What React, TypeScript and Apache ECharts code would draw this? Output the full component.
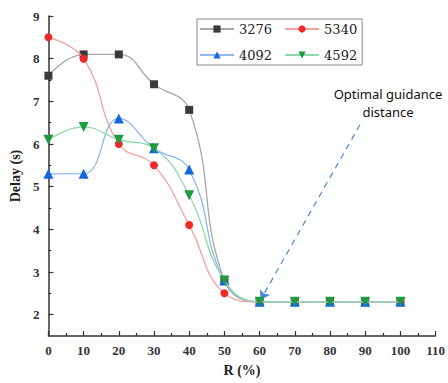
import React, { useEffect, useRef } from "react";
import * as echarts from "echarts";

const xValues = [0, 10, 20, 30, 40, 50, 60, 70, 80, 90, 100];
const s3276 = [7.6, 8.1, 8.1, 7.4, 6.8, 2.8, 2.3, 2.3, 2.3, 2.3, 2.3];
const s5340 = [8.5, 8.0, 6.0, 5.5, 4.1, 2.5, 2.3, 2.3, 2.3, 2.3, 2.3];
const s4092 = [5.3, 5.3, 6.6, 5.9, 5.4, 2.8, 2.3, 2.3, 2.3, 2.3, 2.3];
const s4592 = [6.1, 6.4, 6.1, 5.9, 4.8, 2.8, 2.3, 2.3, 2.3, 2.3, 2.3];
const legendNames = ["3276", "5340", "4092", "4592"];
const yMajorTicks = [2, 3, 4, 5, 6, 7, 8, 9];
const yMinorTicks = [2.5, 3.5, 4.5, 5.5, 6.5, 7.5, 8.5];
const annotationLines = ["Optimal guidance", "distance"];
const arrowFrom = [88.5, 6.45];
const arrowTo = [60.3, 2.35];

const serif = "Liberation Serif";

export default function App() {
  const ref = useRef<HTMLDivElement>(null);
  useEffect(() => {
    if (!ref.current) return;
    const chart = echarts.init(ref.current, null, { renderer: "svg" });
    const pair = (arr: number[]) => xValues.map((x, i) => [x, arr[i]]);
    const mk = (name: string, data: number[], line: string, mark: string, symbol: string, size: number, z: number) => ({
      name,
      type: "line",
      smooth: 0.45,
      data: pair(data),
      symbol,
      symbolSize: size,
      showAllSymbol: true,
      z,
      lineStyle: { color: line, width: 1.3 },
      itemStyle: { color: mark },
    });
    const series: any[] = [
      mk(legendNames[0], s3276, "#a8a8a8", "#3a3a3a", "rect", 8, 2),
      mk(legendNames[1], s5340, "#f5a0a0", "#f02828", "circle", 8, 3),
      mk(legendNames[2], s4092, "#8fb8ee", "#1565e0", "triangle", 10, 4),
      mk(legendNames[3], s4592, "#90d8a8", "#1e9a40", "path://M0,0 L10,0 L5,9 Z", 10, 5),
    ];
    series[0].markLine = {
      silent: true,
      symbol: ["none", "arrow"],
      symbolSize: 9,
      label: { show: false },
      lineStyle: { color: "#4a86d8", type: [6, 5], width: 1.2 },
      data: [[{ coord: arrowFrom }, { coord: arrowTo }]],
    };
    chart.setOption({
      animation: false,
      textStyle: { fontFamily: serif },
      grid: { left: 41, right: 11, top: 16, bottom: 47 },
      legend: {
        left: 197,
        top: 19,
        width: 172,
        itemWidth: 34,
        itemHeight: 9,
        itemGap: 12,
        padding: [3, 5, 3, 2],
        borderColor: "#8a8a8a",
        borderWidth: 1,
        data: legendNames,
        textStyle: { fontFamily: "DejaVu Serif", fontSize: 13, color: "#222", lineHeight: 14 },
      },
      xAxis: {
        type: "value",
        min: 0,
        max: 110,
        interval: 10,
        name: "R (%)",
        nameLocation: "middle",
        nameGap: 27,
        nameTextStyle: { fontFamily: serif, fontSize: 14, fontWeight: "bold", color: "#222" },
        axisLine: { show: true, lineStyle: { color: "#333", width: 1.5 } },
        axisTick: { show: true, inside: true, length: 5, lineStyle: { color: "#333", width: 1.2 } },
        minorTick: { show: true, splitNumber: 2, length: 3, lineStyle: { color: "#333", width: 1.2 } },
        axisLabel: { fontFamily: serif, fontSize: 13, fontWeight: "bold", color: "#333", margin: 8 },
        splitLine: { show: false },
      },
      yAxis: [
        {
          type: "value",
          min: 1.5,
          max: 9,
          name: "Delay (s)",
          nameLocation: "middle",
          nameGap: 24,
          nameTextStyle: { fontFamily: serif, fontSize: 14, fontWeight: "bold", color: "#222" },
          axisLine: { show: true, lineStyle: { color: "#333", width: 1.5 } },
          axisTick: { show: true, inside: true, length: 5, customValues: yMajorTicks, lineStyle: { color: "#333", width: 1.2 } },
          axisLabel: { customValues: yMajorTicks, fontFamily: serif, fontSize: 13, fontWeight: "bold", color: "#333", margin: 9 },
          splitLine: { show: false },
        },
        {
          type: "value",
          min: 1.5,
          max: 9,
          position: "left",
          axisLine: { show: false },
          axisTick: { show: true, inside: true, length: 3, customValues: yMinorTicks, lineStyle: { color: "#333", width: 1.2 } },
          axisLabel: { show: false },
          splitLine: { show: false },
        },
      ],
      graphic: [
        {
          type: "text",
          x: 388,
          y: 87,
          style: { text: annotationLines[0], fill: "#111", font: "13px 'Noto Sans', sans-serif", textAlign: "center" },
        },
        {
          type: "text",
          x: 388,
          y: 105,
          style: { text: annotationLines[1], fill: "#111", font: "13px 'Noto Sans', sans-serif", textAlign: "center" },
        },
      ],
      series,
    });
    return () => chart.dispose();
  }, []);
  return <div ref={ref} style={{ width: 448, height: 383, position: "absolute", left: 0, top: 0, background: "#fff" }} />;
}
